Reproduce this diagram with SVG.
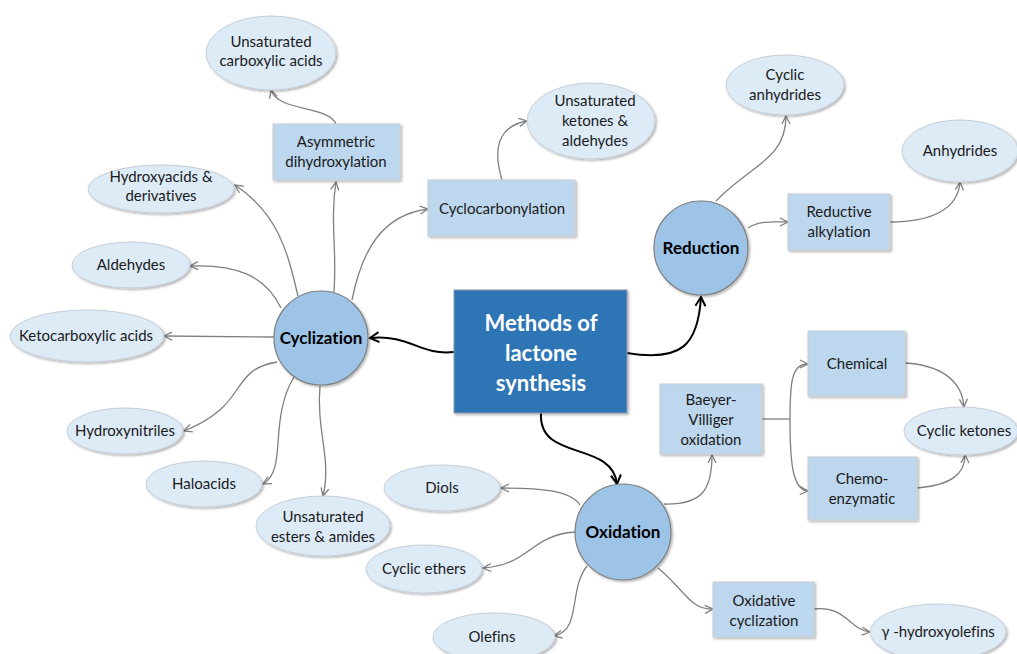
<svg xmlns="http://www.w3.org/2000/svg" width="1017" height="654" viewBox="0 0 1017 654">
<style>
text{font-variant-ligatures:none;font-feature-settings:"liga" 0}
.t{font-family:Lato,"Liberation Sans",sans-serif;font-size:15px;fill:#1a1a1a;text-anchor:middle}
.b{font-family:Lato,"Liberation Sans",sans-serif;font-weight:bold;font-size:17px;fill:#000;text-anchor:middle}
.m{font-family:Lato,"Liberation Sans",sans-serif;font-weight:bold;font-size:22px;fill:#fff;text-anchor:middle}
.el{fill:#DDEBF7;stroke:#C6CED8;stroke-width:1;filter:url(#sh)}
.bx{fill:#BDD7EE;stroke:#C8CCD0;stroke-width:1;filter:url(#sh)}
.ci{fill:#9DC3E6;stroke:#7F7F7F;stroke-width:1.2;filter:url(#sh)}
.c{fill:none;stroke:#7F7F7F;stroke-width:1.3}
.ca{fill:none;stroke:#7F7F7F;stroke-width:1.3;marker-end:url(#ag)}
.k{fill:none;stroke:#000;stroke-width:2;marker-end:url(#ak)}
</style>
<defs>
<filter id="sh" x="-20%" y="-20%" width="140%" height="140%">
<feDropShadow dx="1.5" dy="1.5" stdDeviation="1.2" flood-color="#000" flood-opacity="0.3"/>
</filter>
<marker id="ag" viewBox="0 0 10 10" refX="9" refY="5" markerWidth="10" markerHeight="10" markerUnits="userSpaceOnUse" orient="auto">
<path d="M1,1 L9,5 L1,9" fill="none" stroke="#7F7F7F" stroke-width="1.3"/>
</marker>
<marker id="ak" viewBox="0 0 12 12" refX="10" refY="6" markerWidth="12" markerHeight="12" markerUnits="userSpaceOnUse" orient="auto">
<path d="M1,1 L10,6 L1,11" fill="none" stroke="#000" stroke-width="2"/>
</marker>
</defs>

<g id="connectors">
<path class="ca" d="M334 292 C337 250 330 220 336 182"/>
<path class="ca" d="M336 124 C328 105 278 112 271 90"/>
<path class="ca" d="M298 296 C288 255 280 215 235 185"/>
<path class="ca" d="M281 308 C265 275 235 264 190 266"/>
<path class="ca" d="M274 337 L164 336"/>
<path class="ca" d="M277 362 C228 370 250 405 184 431"/>
<path class="ca" d="M294 377 C268 420 288 470 263 484"/>
<path class="ca" d="M320 386 C316 430 332 460 323 496"/>
<path class="ca" d="M352 300 C362 250 382 215 428 209"/>
<path class="ca" d="M502 180 C490 140 505 125 527 121"/>
<path class="ca" d="M716 201 C750 165 786 160 786 116"/>
<path class="ca" d="M748 228 C760 220 775 222 788 222"/>
<path class="ca" d="M890 222 C930 222 958 210 960 182"/>
<path class="ca" d="M664 504 C702 505 712 490 712 455"/>
<path class="c" d="M762 419 L790 419"/>
<path class="ca" d="M790 419 C790 380 792 364 808 364"/>
<path class="ca" d="M790 419 C790 460 792 490 808 491"/>
<path class="ca" d="M905 363 C940 365 962 380 964 407"/>
<path class="ca" d="M917 488 C950 485 965 475 965 455"/>
<path class="ca" d="M580 505 C570 490 540 488 501 488"/>
<path class="ca" d="M575 532 C530 535 530 565 483 568"/>
<path class="ca" d="M587 566 C568 590 582 630 554 636"/>
<path class="ca" d="M658 568 C685 590 690 610 713 609"/>
<path class="ca" d="M814 609 C845 605 850 630 870 632"/>
<path class="k" d="M454 352 C420 356 410 334 370 338"/>
<path class="k" d="M627 353 C682 362 698 345 701 297"/>
<path class="k" d="M541 413 C538 462 612 440 617 484"/>
</g>

<g id="center">
<rect x="454" y="290" width="173" height="123" fill="#2E75B6" stroke="#8A9BAE" stroke-width="1" filter="url(#sh)"/>
<text class="m" x="541" y="331">Methods of</text>
<text class="m" x="541" y="361">lactone</text>
<text class="m" x="541" y="391">synthesis</text>
</g>

<g id="cyclization"><circle class="ci" cx="321" cy="338" r="47"/><text class="b" x="321" y="344">Cyclization</text></g>
<g id="reduction"><circle class="ci" cx="701" cy="248" r="47"/><text class="b" x="701" y="254">Reduction</text></g>
<g id="oxidation"><circle class="ci" cx="623" cy="532" r="48"/><text class="b" x="623" y="538">Oxidation</text></g>

<g id="unsat-carboxylic"><ellipse class="el" cx="271" cy="53" rx="65" ry="37"/><text class="t" x="271" y="47">Unsaturated</text><text class="t" x="271" y="66">carboxylic acids</text></g>
<g id="hydroxyacids"><ellipse class="el" cx="161" cy="189" rx="73" ry="24"/><text class="t" x="161" y="182">Hydroxyacids &amp;</text><text class="t" x="161" y="201">derivatives</text></g>
<g id="aldehydes"><ellipse class="el" cx="131" cy="265" rx="59" ry="23"/><text class="t" x="131" y="270">Aldehydes</text></g>
<g id="ketocarboxylic"><ellipse class="el" cx="87" cy="336" rx="77" ry="26"/><text class="t" x="86" y="341">Ketocarboxylic acids</text></g>
<g id="hydroxynitriles"><ellipse class="el" cx="125" cy="431" rx="58" ry="23"/><text class="t" x="125" y="436">Hydroxynitriles</text></g>
<g id="haloacids"><ellipse class="el" cx="204" cy="484" rx="58" ry="23"/><text class="t" x="204" y="489">Haloacids</text></g>
<g id="unsat-esters"><ellipse class="el" cx="323" cy="526" rx="67" ry="30"/><text class="t" x="323" y="522">Unsaturated</text><text class="t" x="323" y="542">esters &amp; amides</text></g>
<g id="unsat-ketones"><ellipse class="el" cx="591" cy="121" rx="64" ry="38"/><text class="t" x="595" y="106">Unsaturated</text><text class="t" x="595" y="126">ketones &amp;</text><text class="t" x="595" y="146">aldehydes</text></g>
<g id="cyclic-anhydrides"><ellipse class="el" cx="785" cy="85" rx="59" ry="30"/><text class="t" x="785" y="80">Cyclic</text><text class="t" x="785" y="100">anhydrides</text></g>
<g id="anhydrides"><ellipse class="el" cx="960" cy="151" rx="58" ry="31"/><text class="t" x="960" y="156">Anhydrides</text></g>
<g id="cyclic-ketones"><ellipse class="el" cx="961" cy="431" rx="57" ry="24"/><text class="t" x="964" y="436">Cyclic ketones</text></g>
<g id="diols"><ellipse class="el" cx="442" cy="488" rx="58" ry="23"/><text class="t" x="442" y="493">Diols</text></g>
<g id="cyclic-ethers"><ellipse class="el" cx="424" cy="569" rx="58" ry="24"/><text class="t" x="424" y="574">Cyclic ethers</text></g>
<g id="olefins"><ellipse class="el" cx="494" cy="637" rx="61" ry="24"/><text class="t" x="492" y="642">Olefins</text></g>
<g id="hydroxyolefins"><ellipse class="el" cx="938" cy="632" rx="68" ry="28"/><text class="t" x="938" y="637">γ -hydroxyolefins</text></g>

<g id="asym-dihydroxylation"><rect class="bx" x="273" y="124" width="127" height="56"/><text class="t" x="336" y="147">Asymmetric</text><text class="t" x="336" y="167">dihydroxylation</text></g>
<g id="cyclocarbonylation"><rect class="bx" x="428" y="180" width="147" height="56"/><text class="t" x="502" y="214">Cyclocarbonylation</text></g>
<g id="reductive-alkylation"><rect class="bx" x="788" y="194" width="102" height="56"/><text class="t" x="839" y="217">Reductive</text><text class="t" x="839" y="237">alkylation</text></g>
<g id="chemical"><rect class="bx" x="808" y="331" width="97" height="65"/><text class="t" x="857" y="369">Chemical</text></g>
<g id="baeyer-villiger"><rect class="bx" x="660" y="384" width="102" height="70"/><text class="t" x="711" y="405">Baeyer-</text><text class="t" x="711" y="425">Villiger</text><text class="t" x="711" y="445">oxidation</text></g>
<g id="chemo-enzymatic"><rect class="bx" x="808" y="457" width="109" height="63"/><text class="t" x="862" y="484">Chemo-</text><text class="t" x="862" y="504">enzymatic</text></g>
<g id="oxidative-cyclization"><rect class="bx" x="713" y="582" width="101" height="55"/><text class="t" x="764" y="606">Oxidative</text><text class="t" x="764" y="626">cyclization</text></g>
</svg>
